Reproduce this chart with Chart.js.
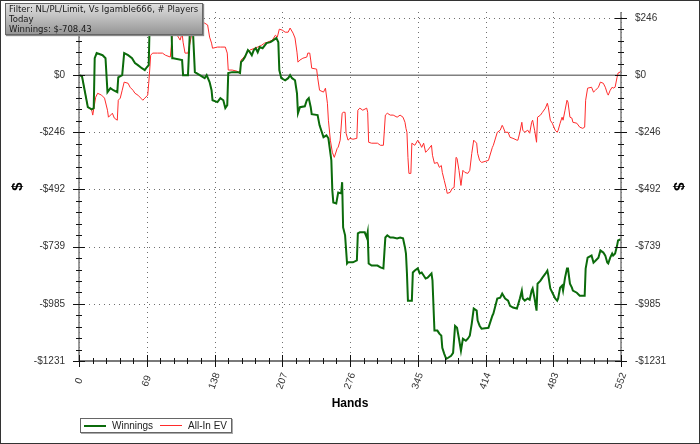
<!DOCTYPE html>
<html>
<head>
<meta charset="utf-8">
<script src="https://cdn.jsdelivr.net/npm/chart.js@4.4.1/dist/chart.umd.min.js"></script>
<style>
    html, body { margin: 0; padding: 0; background: #fff; }
    #wrap { position: relative; width: 700px; height: 444px; overflow: hidden; }
    #frame { position: absolute; left: 0; top: 0; width: 700px; height: 444px; box-sizing: border-box; border: 1px solid #333; pointer-events: none; }
    #info {
        position: absolute; left: 5px; top: 3px; width: 198px; height: 32px; box-sizing: border-box;
        border: 1px solid #666; background: linear-gradient(#e0e0e0, #969696);
        box-shadow: 1px 1px 1px #888;
        font: 8.5px 'DejaVu Sans', Verdana, sans-serif; line-height: 10px; color: #1a1a1a;
        padding: 0 0 0 3px; white-space: nowrap; overflow: hidden;
    }
    #legend {
        position: absolute; left: 80px; top: 418px; width: 152px; height: 15px; box-sizing: border-box;
        border: 1px solid #666; box-shadow: 1px 1px 0 #aaa;
        font: 10px 'Liberation Sans', Arial, sans-serif; color: #222;
        display: flex; align-items: center;
    }
    #legend .sw { display: inline-block; width: 22px; margin-left: 3px; }
    #legend .lb { margin-left: 6px; margin-right: 4px; }
</style>
</head>
<body>
<div id="wrap">
    <canvas id="graph" width="700" height="444"></canvas>
    <div id="info"><div>Filter: NL/PL/Limit, Vs Igamble666, # Players</div><div>Today</div><div>Winnings: $-708.43</div></div>
    <div id="legend"></div>
    <div id="frame"></div>
</div>
<script>
// Hands / dollar values
const winHands = [0, 3, 9, 13, 15, 16, 18, 24, 27, 29, 32, 35, 39, 40, 44, 46, 50, 54, 57, 60, 64, 67, 69, 71, 72, 82, 88, 94, 95, 96,
    105, 106, 111, 113, 116, 118, 123, 128, 130, 133, 135, 136, 141, 144, 147, 149, 151, 152, 156, 162, 164, 165, 167, 169, 172, 174, 176, 178, 180, 182,
    184, 187, 191, 195, 198, 201, 203, 204, 206, 210, 213, 215, 217, 220, 222, 223, 225, 230, 232, 234, 236, 237, 243, 245, 249, 252, 254, 257, 258, 259,
    262, 264, 267, 268, 269, 271, 273, 274, 279, 283, 284, 286, 291, 293, 294, 295, 298, 304, 307, 310, 312, 314, 317, 320, 324, 327, 330, 332, 333, 334,
    335, 339, 340, 342, 345, 347, 349, 351, 353, 355, 359, 360, 362, 365, 367, 369, 370, 372, 374, 376, 379, 381, 383, 385, 387, 389, 391, 394, 396, 398,
    400, 402, 405, 406, 408, 410, 417, 421, 422, 426, 429, 431, 434, 437, 439, 442, 446, 449, 451, 452, 454, 457, 459, 461, 462, 464, 466, 467, 470, 472,
    475, 477, 478, 480, 482, 485, 487, 488, 490, 492, 493, 495, 497, 498, 500, 502, 503, 507, 510, 515, 516, 518, 522, 524, 526, 529, 531, 534, 536, 538,
    539, 541, 543, 544, 546, 548, 549, 551, 552];
const winValues = [0, -4, -138, -147, -142, 73, 95, 86, 73, -73, -56, -65, -73, -9, 0, 95, 86, 73, 52, 43, 30, 22, 34, 43, 229, 246, 229, 237, 73, 73,
    65, 0, 0, 194, 194, 13, 0, -13, 0, -30, -65, -108, -116, -99, -108, -142, -129, 9, 13, 13, 9, 56, 65, 78, 108, 99, 86, 108, 116, 99,
    121, 116, 138, 142, 151, 160, 142, 22, -13, -22, -13, 0, -13, -22, -78, -164, -138, -134, -108, -99, -138, -168, -172, -216, -267, -259, -272, -367, -496, -548,
    -552, -505, -509, -461, -656, -690, -811, -806, -806, -798, -681, -677, -677, -699, -677, -811, -820, -820, -828, -832, -699, -690, -699, -699, -703, -699, -703, -742, -768, -854,
    -971, -971, -850, -841, -832, -854, -850, -863, -876, -872, -854, -884, -1100, -1100, -1113, -1122, -1174, -1200, -1222, -1217, -1209, -1196, -1080, -1088, -1135, -1187, -1135, -1144, -1135, -1122,
    -1070, -1005, -1014, -1057, -1079, -1092, -1088, -1036, -1027, -962, -958, -941, -962, -971, -993, -1001, -1005, -962, -928, -962, -971, -962, -967, -928, -919, -962, -1014, -898, -885, -872,
    -855, -842, -863, -919, -936, -962, -971, -962, -915, -906, -928, -872, -833, -833, -898, -915, -928, -937, -950, -950, -833, -786, -777, -807, -799, -786, -755, -764, -777, -807,
    -811, -786, -768, -777, -768, -734, -712, -708, -708.43];

const evHands = [0, 3, 9, 13, 14, 17, 19, 23, 26, 29, 30, 34, 36, 39, 40, 42, 44, 46, 50, 52, 55, 57, 60, 63, 65, 67, 70, 71, 72, 73,
    75, 80, 85, 88, 93, 95, 100, 103, 105, 106, 108, 111, 115, 118, 123, 128, 131, 133, 135, 136, 141, 144, 149, 151, 152, 156, 161, 164, 165, 167,
    172, 174, 179, 182, 186, 189, 192, 197, 200, 202, 204, 207, 210, 213, 215, 218, 220, 222, 223, 225, 228, 232, 233, 235, 236, 237, 242, 243, 245, 249,
    251, 253, 254, 256, 258, 260, 263, 264, 266, 268, 269, 271, 272, 274, 276, 279, 283, 284, 286, 289, 293, 294, 295, 298, 304, 307, 310, 312, 314, 317,
    320, 324, 327, 330, 332, 333, 334, 335, 336, 338, 339, 342, 345, 347, 349, 351, 353, 355, 359, 360, 362, 365, 367, 369, 370, 372, 374, 375, 378, 380,
    382, 384, 385, 387, 389, 391, 393, 396, 398, 400, 402, 405, 406, 408, 410, 417, 421, 422, 426, 429, 431, 432, 434, 437, 439, 442, 446, 447, 449, 451,
    452, 454, 457, 459, 461, 462, 464, 466, 467, 470, 472, 475, 477, 478, 480, 482, 485, 487, 488, 490, 492, 493, 495, 497, 498, 500, 502, 503, 507, 510,
    513, 515, 516, 518, 522, 524, 526, 529, 531, 534, 536, 538, 539, 541, 543, 544, 546, 548, 549, 551, 552];
const evValues = [0, -4, -138, -151, -172, -95, -78, -86, -99, -151, -181, -164, -185, -194, -108, -99, -65, -30, -35, -52, -65, -78, -86, -99, -108, -99, -86, -35, 22, 86,
    95, 95, 95, 86, 78, 172, 172, 151, 181, 142, 95, 95, 181, 203, 229, 224, 216, 164, 138, 116, 121, 121, 121, 95, 22, 22, 17, 9, 65, 73,
    99, 108, 116, 121, 129, 138, 142, 151, 172, 164, 198, 194, 185, 185, 203, 181, 160, 99, 56, 65, 73, 78, 95, 95, 65, 30, 26, -9, -65, -73,
    -56, -121, -194, -280, -332, -354, -315, -310, -280, -164, -160, -160, -250, -280, -272, -276, -272, -151, -142, -151, -142, -160, -289, -293, -293, -302, -302, -172, -164, -172,
    -172, -181, -172, -181, -203, -229, -246, -354, -423, -423, -293, -302, -280, -293, -311, -293, -332, -324, -302, -345, -380, -376, -397, -389, -419, -453, -488, -509, -505, -488,
    -484, -354, -358, -410, -475, -410, -419, -423, -410, -337, -280, -293, -337, -367, -376, -367, -311, -302, -246, -237, -216, -224, -246, -246, -268, -272, -280, -280, -246, -203,
    -237, -246, -237, -250, -203, -194, -237, -289, -181, -172, -160, -142, -121, -138, -194, -207, -237, -246, -237, -207, -181, -194, -151, -108, -116, -181, -185, -203, -207, -224,
    -229, -224, -108, -56, -52, -73, -65, -52, -30, -35, -52, -78, -86, -65, -52, -56, -52, -9, 9, 13, 20];

const xTicks = [0, 69, 138, 207, 276, 345, 414, 483, 552];
const yTicks = [-1231, -984.8, -738.6, -492.4, -246.2, 0, 246.2];
const yMin = -1231, yMax = 272;

function dollars(v) {
    const r = Math.round(v);
    return r < 0 ? '-$' + (-r) : '$' + r;
}

function minorsOf(ticks, max) {
    const out = [];
    const step = (ticks[1] - ticks[0]) / 5;
    for (let v = ticks[0]; v <= max + 0.01; v += step) out.push(v);
    return out;
}

function hline(ctx, x1, x2, y) { ctx.beginPath(); ctx.moveTo(x1, y); ctx.lineTo(x2, y); ctx.stroke(); }
function vline(ctx, x, y1, y2) { ctx.beginPath(); ctx.moveTo(x, y1); ctx.lineTo(x, y2); ctx.stroke(); }

// dotted grid, zero line, crossing tick marks and rotated hand labels
const axisDecor = {
    id: 'axisDecor',
    beforeDatasetsDraw(chart) {
        const { ctx, chartArea: a, scales: { x, y } } = chart;
        ctx.save();
        ctx.strokeStyle = '#707070';
        ctx.lineWidth = 1;
        ctx.setLineDash([1, 4]);
        xTicks.forEach(v => vline(ctx, Math.round(x.getPixelForValue(v)) + 0.5, a.top, a.bottom));
        yTicks.forEach(v => hline(ctx, a.left, a.right, Math.round(y.getPixelForValue(v)) + 0.5));
        ctx.setLineDash([]);
        ctx.strokeStyle = '#808080';
        ctx.lineWidth = 1.5;
        hline(ctx, a.left, a.right, y.getPixelForValue(0));
        ctx.restore();
    },
    afterDatasetsDraw(chart) {
        const { ctx, chartArea: a, scales: { x, y } } = chart;
        ctx.save();
        // axis lines
        ctx.strokeStyle = '#7a7a7a';
        ctx.lineWidth = 2;
        hline(ctx, a.left, a.right, a.bottom);
        ctx.lineWidth = 1.5;
        vline(ctx, a.left, a.top, a.bottom);
        vline(ctx, a.right, a.top, a.bottom);

        // ticks
        ctx.strokeStyle = '#111';
        ctx.lineWidth = 1;
        minorsOf(xTicks, 552).forEach(v => {
            const px = Math.round(x.getPixelForValue(v)) + 0.5;
            vline(ctx, px, a.bottom - 3, a.bottom + 3);
        });
        xTicks.forEach(v => {
            const px = Math.round(x.getPixelForValue(v)) + 0.5;
            vline(ctx, px, a.bottom - 6, a.bottom + 6);
        });
        minorsOf(yTicks, yMax).forEach(v => {
            const py = Math.round(y.getPixelForValue(v)) + 0.5;
            hline(ctx, a.left - 3, a.left + 3, py);
            hline(ctx, a.right - 3, a.right + 3, py);
        });
        yTicks.forEach(v => {
            const py = Math.round(y.getPixelForValue(v)) + 0.5;
            hline(ctx, a.left - 6, a.left + 6, py);
            hline(ctx, a.right - 6, a.right + 6, py);
        });

        // hand labels
        ctx.fillStyle = '#333';
        ctx.font = '10px "Liberation Sans", Arial, sans-serif';
        ctx.textAlign = 'center';
        ctx.textBaseline = 'middle';
        xTicks.forEach(v => {
            ctx.save();
            ctx.translate(x.getPixelForValue(v), a.bottom + 20);
            ctx.rotate(-70 * Math.PI / 180);
            ctx.fillText(String(v), 0, 0);
            ctx.restore();
        });
        ctx.restore();
    }
};

const tickFont = { family: 'Liberation Sans', size: 10 };
const dollarTitle = pad => ({ display: true, text: '$', color: '#000', font: { family: 'Liberation Sans', size: 15, weight: 'bold' }, padding: { top: pad, bottom: 0 } });

// fixed axis width, and no extra room for the end labels
function fixWidth(s) {
    s.width = 79;
    s.paddingTop = 0;
    s.paddingBottom = 0;
}

const chart = new Chart(document.getElementById('graph'), {
    type: 'line',
    data: {
        datasets: [
            {
                label: 'Winnings',
                data: winHands.map((h, i) => ({ x: h, y: winValues[i] })),
                borderColor: '#0b6b0b',
                borderWidth: 2,
                pointRadius: 0,
                tension: 0
            },
            {
                label: 'All-In EV',
                data: evHands.map((h, i) => ({ x: h, y: evValues[i] })),
                borderColor: '#ff2b2b',
                borderWidth: 1,
                pointRadius: 0,
                tension: 0
            }
        ]
    },
    options: {
        responsive: false,
        animation: false,
        layout: { padding: { top: 12, left: 0, right: 0, bottom: 0 } },
        plugins: {
            legend: { display: false },
            tooltip: { enabled: false }
        },
        scales: {
            x: {
                type: 'linear',
                min: 0,
                max: 552,
                afterBuildTicks: s => { s.ticks = xTicks.map(v => ({ value: v })); },
                afterFit: s => { s.height = 83; s.paddingLeft = 0; s.paddingRight = 0; },
                grid: { display: false, drawTicks: false },
                border: { display: false },
                ticks: { display: false },
                title: { display: true, text: 'Hands', color: '#000', font: { family: 'Liberation Sans', size: 12, weight: 'bold' }, padding: { top: 0, bottom: 33 } }
            },
            y: {
                position: 'left',
                min: yMin,
                max: yMax,
                afterBuildTicks: s => { s.ticks = yTicks.map(v => ({ value: v })); },
                afterFit: fixWidth,
                grid: { display: false, drawTicks: false },
                border: { display: false },
                ticks: { padding: 14, autoSkip: false, color: '#333', font: tickFont, callback: v => dollars(v) },
                title: dollarTitle(9)
            },
            y2: {
                position: 'right',
                min: yMin,
                max: yMax,
                afterBuildTicks: s => { s.ticks = yTicks.map(v => ({ value: v })); },
                afterFit: fixWidth,
                grid: { display: false, drawTicks: false },
                border: { display: false },
                ticks: { padding: 14, autoSkip: false, color: '#333', font: tickFont, callback: v => dollars(v) },
                title: dollarTitle(13)
            }
        }
    },
    plugins: [axisDecor]
});

// legend box
const legend = document.getElementById('legend');
chart.data.datasets.forEach(ds => {
    const sw = document.createElement('span');
    sw.className = 'sw';
    sw.style.borderTop = ds.borderWidth + 'px solid ' + ds.borderColor;
    const lb = document.createElement('span');
    lb.className = 'lb';
    lb.textContent = ds.label;
    legend.appendChild(sw);
    legend.appendChild(lb);
});
</script>
</body>
</html>
